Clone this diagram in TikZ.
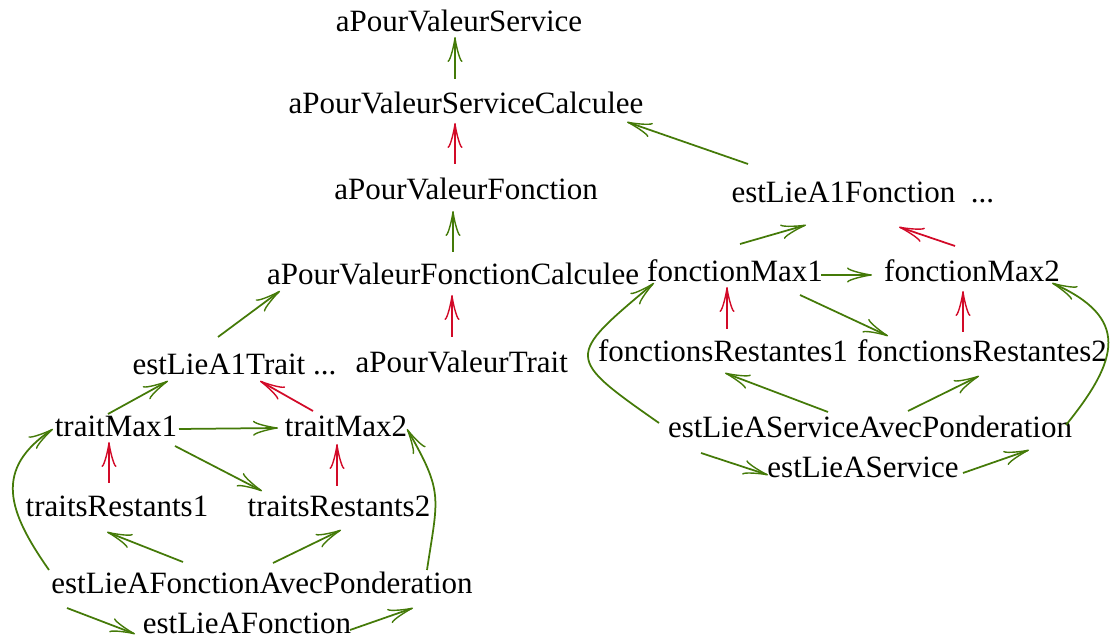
\documentclass[tikz,border=0pt]{standalone}
\usepackage{fontspec}
\setmainfont{Liberation Serif}
\usetikzlibrary{arrows.meta,calc}
\definecolor{gE}{RGB}{68,122,8}
\definecolor{rE}{RGB}{210,10,40}
\begin{document}
\begin{tikzpicture}[x=0.4pt,y=0.4pt,
  lbl/.style={inner sep=0pt,font=\fontsize{12.4pt}{15pt}\selectfont},
  conn/.style={line width=0.7pt,-{Classical TikZ Rightarrow[length=10pt,width=6pt]}},
  gr/.style={conn,draw=gE},
  rd/.style={conn,draw=rE}]
\useasboundingbox (0,0) rectangle (1111,639);
% nodes
\node[lbl,anchor=base] (svc)  at (459,607) {aPourValeurService};
\node[lbl,anchor=base] (svcc) at (466,525) {aPourValeurServiceCalculee};
\node[lbl,anchor=base] (fct)  at (466,439) {aPourValeurFonction};
\node[lbl,anchor=base] (fctc) at (453,354) {aPourValeurFonctionCalculee};
\node[lbl,anchor=base] (fm1)  at (735,357) {fonctionMax1};
\node[lbl,anchor=base] (fm2)  at (972,357) {fonctionMax2};
\node[lbl,anchor=base west] (e1f) at (731,436) {estLieA1Fonction\ \ ...};
\node[lbl,anchor=base] (fr1)  at (723,277) {fonctionsRestantes1};
\node[lbl,anchor=base] (fr2)  at (982,277) {fonctionsRestantes2};
\node[lbl,anchor=base] (esp)  at (870,201) {estLieAServiceAvecPonderation};
\node[lbl,anchor=base] (es)   at (863,161) {estLieAService};
\node[lbl,anchor=base west] (e1t) at (132,264) {estLieA1Trait ...};
\node[lbl,anchor=base west] (vt)  at (355,266) {aPourValeurTrait};
\node[lbl,anchor=base] (tm1)  at (116,202) {traitMax1};
\node[lbl,anchor=base] (tm2)  at (346,202) {traitMax2};
\node[lbl,anchor=base] (tr1)  at (117,122) {traitsRestants1};
\node[lbl,anchor=base] (tr2)  at (339,122) {traitsRestants2};
\node[lbl,anchor=base] (efp)  at (262,45) {estLieAFonctionAvecPonderation};
\node[lbl,anchor=base] (ef)   at (247,5) {estLieAFonction};
% top column
\draw[gr] ($(svcc.base)+(-11,35)$) -- ($(svc.base)+(-4,-5)$);
\draw[rd] ($(fct.base)+(-11,36)$) -- ($(svcc.base)+(-11,-9)$);
\draw[gr] ($(fctc.base)+(0,33)$) -- ($(fct.base)+(-13,-11)$);
\draw[rd] ($(vt.base west)+(97,36)$) -- ($(fctc.base)+(-1,-10)$);
% right group
\draw[gr] ($(e1f.base west)+(17,39)$) -- ($(svcc.base)+(161,-8)$);
\draw[gr] ($(fm1.base)+(5,38)$) -- ($(e1f.base west)+(75,-22)$);
\draw[rd] ($(fm2.base)+(-17,36)$) -- ($(e1f.base west)+(168,-24)$);
\draw[gr] ($(fm1.base)+(86,7)$) -- ($(fm2.base)+(-100,7)$);
\draw[rd] ($(fr1.base)+(4,33)$) -- ($(fm1.base)+(-8,-5)$);
\draw[rd] ($(fr2.base)+(-19,30)$) -- ($(fm2.base)+(-9,-9)$);
\draw[gr] ($(fm1.base)+(65,-13)$) -- ($(fr2.base)+(-94,26)$);
\draw[gr] ($(esp.base)+(-42,26)$) -- ($(fr1.base)+(2,-11)$);
\draw[gr] ($(esp.base)+(38,27)$) -- ($(fr2.base)+(-3,-14)$);
\draw[gr] ($(esp.base)+(-211,15)$) .. controls +(145:115) and +(220:115) .. ($(fm1.base)+(-81,-1)$);
\draw[gr] ($(esp.base)+(196,13)$) .. controls +(51:85) and +(336:85) .. ($(fm2.base)+(80,-1)$);
\draw[gr] ($(esp.base)+(-169,-15)$) -- ($(es.base)+(-95,3)$);
\draw[gr] ($(es.base)+(100,5)$) -- ($(esp.base)+(159,-12)$);
% left group
\draw[gr] ($(e1t.base west)+(86,38)$) -- ($(fctc.base)+(-173,-6)$);
\draw[gr] ($(tm1.base)+(-8,23)$) -- ($(e1t.base west)+(36,-6)$);
\draw[rd] ($(tm2.base)+(-33,26)$) -- ($(e1t.base west)+(128,-6)$);
\draw[gr] ($(tm1.base)+(63,8)$) -- ($(tm2.base)+(-68,9)$);
\draw[rd] ($(tr1.base)+(-8,34)$) -- ($(tm1.base)+(-7,-5)$);
\draw[rd] ($(tr2.base)+(-2,31)$) -- ($(tm2.base)+(-9,-7)$);
\draw[gr] ($(tm1.base)+(59,-9)$) -- ($(tr2.base)+(-77,26)$);
\draw[gr] ($(efp.base)+(-79,32)$) -- ($(tr1.base)+(-10,-15)$);
\draw[gr] ($(efp.base)+(11,31)$) -- ($(tr2.base)+(2,-13)$);
\draw[gr] ($(efp.base)+(-213,24)$) .. controls +(125:72) and +(214:72) .. ($(tm1.base)+(-63,8)$);
\draw[gr] ($(efp.base)+(165,24)$) .. controls +(81.5:74) and +(300:74) .. ($(tm2.base)+(61,8)$);
\draw[gr] ($(efp.base)+(-195,-14)$) -- ($(ef.base)+(-112,0)$);
\draw[gr] ($(ef.base)+(103,4)$) -- ($(efp.base)+(151,-14)$);
\end{tikzpicture}
\end{document}
